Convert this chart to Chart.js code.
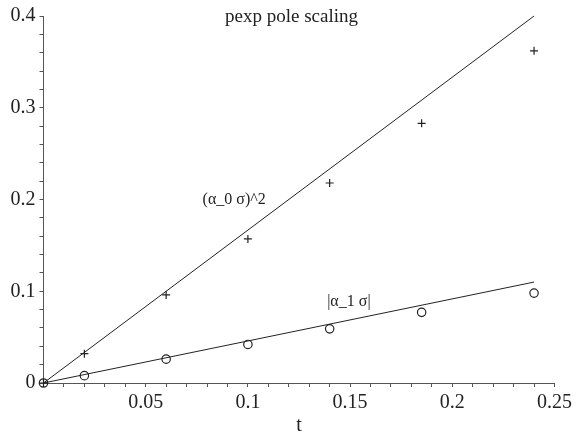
<!DOCTYPE html>
<html><head><meta charset="utf-8">
<script src="https://cdn.jsdelivr.net/npm/chart.js@4/dist/chart.umd.min.js"></script>
<style>html,body{margin:0;padding:0;background:#fff}</style>
</head><body>
<canvas id="c" width="576" height="437"></canvas>
<script>
// ---- data ----
const tValues = [0, 0.02, 0.06, 0.1, 0.14, 0.185, 0.24];
const alpha0SigmaSq = [0, 0.032, 0.096, 0.157, 0.218, 0.283, 0.362];
const alpha1Sigma = [0, 0.008, 0.026, 0.042, 0.059, 0.077, 0.098];
const fitT = [0, 0.24];
const fitAlpha0 = [0, 0.40];
const fitAlpha1 = [0, 0.11];
const xTickLabels = ['0.05', '0.1', '0.15', '0.2', '0.25'];
const yTickLabels = ['0', '0.1', '0.2', '0.3', '0.4'];
const curveLabels = ['(\u03b1_0 \u03c3)^2', '|\u03b1_1 \u03c3|'];
const curveLabelT = [0.0933, 0.1494];
const curveLabelV = [0.1997, 0.088];
const titleText = 'pexp pole scaling';
const xTitle = 't';

const SERIF = '"Liberation Serif", "Times New Roman", serif';
const INK = '#222';
const AXIS = '#555';

const pts = (xs, ys) => xs.map((x, i) => ({x, y: ys[i]}));

const labelPlugin = {
  id: 'curveLabels',
  afterDatasetsDraw(chart) {
    const {ctx, scales: {x, y}} = chart;
    ctx.save();
    ctx.fillStyle = INK;
    ctx.font = '16px ' + SERIF;
    ctx.textAlign = 'center';
    ctx.textBaseline = 'middle';
    curveLabels.forEach((s, i) => {
      ctx.fillText(s, x.getPixelForValue(curveLabelT[i]), y.getPixelForValue(curveLabelV[i]));
    });
    ctx.restore();
  }
};

new Chart(document.getElementById('c'), {
  type: 'scatter',
  data: {
    datasets: [
      {data: pts(fitT, fitAlpha0), showLine: true, borderColor: INK, borderWidth: 1, pointRadius: 0, clip: false},
      {data: pts(fitT, fitAlpha1), showLine: true, borderColor: INK, borderWidth: 1, pointRadius: 0, clip: false},
      {data: pts(tValues, alpha0SigmaSq), showLine: false, pointStyle: 'cross', pointRadius: 4, borderColor: INK, borderWidth: 1.2, clip: false},
      {data: pts(tValues, alpha1Sigma), showLine: false, pointStyle: 'circle', pointRadius: 4.2, borderColor: INK, backgroundColor: 'rgba(0,0,0,0)', borderWidth: 1.2, clip: false}
    ]
  },
  options: {
    responsive: false,
    animation: false,
    layout: {padding: {left: 7, right: 0, top: 0, bottom: 0}},
    plugins: {
      legend: {display: false},
      tooltip: {enabled: false},
      title: {display: true, text: titleText, color: INK, font: {family: SERIF, size: 19, weight: 'normal', lineHeight: 1.2}, padding: {top: 4, bottom: -12.8}}
    },
    scales: {
      x: {
        type: 'linear', min: 0, max: 0.25,
        afterFit: s => { s.height = 54; },
        grid: {drawOnChartArea: false, drawTicks: true, tickLength: 4, color: AXIS},
        border: {display: true, color: AXIS, width: 1},
        ticks: {
          stepSize: 0.01, autoSkip: false, maxRotation: 0, minRotation: 0, padding: 4,
          color: INK, font: {family: SERIF, size: 20},
          callback: v => {
            const k = Math.round(v * 100);
            if (k > 0 && k % 5 === 0) return xTickLabels[k / 5 - 1];
            return '';
          }
        },
        title: {display: true, text: xTitle, color: INK, font: {family: SERIF, size: 20, lineHeight: 1.1}, padding: 0}
      },
      y: {
        type: 'linear', min: 0, max: 0.4,
        afterFit: s => { s.width = 36.5; },
        grid: {drawOnChartArea: false, drawTicks: true, tickLength: 4, color: AXIS},
        border: {display: true, color: AXIS, width: 1},
        ticks: {
          stepSize: 0.02, autoSkip: false, padding: 4,
          color: INK, font: {family: SERIF, size: 20},
          callback: v => {
            const k = Math.round(v * 100);
            if (k % 10 === 0) return yTickLabels[k / 10];
            return '';
          }
        }
      }
    }
  },
  plugins: [labelPlugin]
});
</script>
</body></html>
